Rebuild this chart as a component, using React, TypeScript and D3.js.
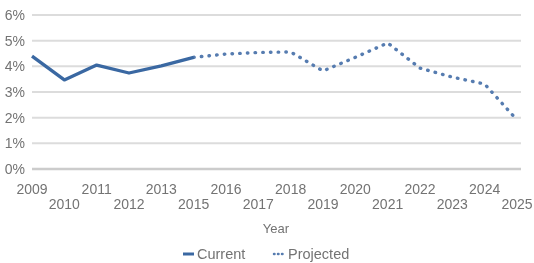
import React from "react";
import * as d3 from "d3";

const years = ["2009","2010","2011","2012","2013","2015","2016","2017","2018","2019","2020","2021","2022","2023","2024","2025"];
const currentValues = [4.4, 3.47, 4.05, 3.74, 4.02, 4.35];
const projectedValues = [4.35, 4.48, 4.54, 4.56, 3.82, 4.35, 4.91, 3.93, 3.58, 3.31, 1.91];
const yTicks = [0, 1, 2, 3, 4, 5, 6];

const W = 534, H = 263;

export default function App() {
  const x = d3.scalePoint<string>().domain(years).range([32, 517]);
  const y = d3.scaleLinear().domain([0, 6]).range([169, 15]);
  const line = d3.line<[string, number]>().x(d => x(d[0])!).y(d => y(d[1]));
  const cur: [string, number][] = currentValues.map((v, i) => [years[i], v]);
  const proj: [string, number][] = projectedValues.map((v, i) => [years[i + 5], v]);
  const font = "'Liberation Sans', Arial, sans-serif";
  const textColor = "#737373";
  return (
    <svg width={W} height={H} style={{ position: "absolute", left: 0, top: 0, background: "#fff", filter: "blur(0.45px)" }} fontFamily={font}>
      {yTicks.map(t => (
        <g key={t}>
          <line x1={32} x2={521} y1={y(t)} y2={y(t)} stroke={t === 0 ? "#cccccc" : "#dcdcdc"} strokeWidth={t === 0 ? 2.4 : 2} />
          <text x={25} y={y(t)} dy="0.35em" textAnchor="end" fontSize={14} fill={textColor}>{t}%</text>
        </g>
      ))}
      {years.map((yr, i) => (
        <text key={yr} x={x(yr)} y={i % 2 === 0 ? 194 : 209} textAnchor="middle" fontSize={14} fill={textColor}>{yr}</text>
      ))}
      <text x={276} y={233} textAnchor="middle" fontSize={13} fill={textColor}>Year</text>
      <path d={line(proj)!} fill="none" stroke="#567cb0" strokeWidth={3.4} strokeDasharray="0.5 7.2" strokeLinecap="round" />
      <path d={line(cur)!} fill="none" stroke="#3a68a2" strokeWidth={3.3} strokeLinejoin="round" />
      <line x1={183} x2={194} y1={254} y2={254} stroke="#3a68a2" strokeWidth={3} />
      <text x={197} y={259} fontSize={14.5} fill={textColor}>Current</text>
      <line x1={274} x2={284} y1={254} y2={254} stroke="#567cb0" strokeWidth={2.5} strokeDasharray="0.5 3.5" strokeLinecap="round" />
      <text x={288} y={259} fontSize={14.5} fill={textColor}>Projected</text>
    </svg>
  );
}
